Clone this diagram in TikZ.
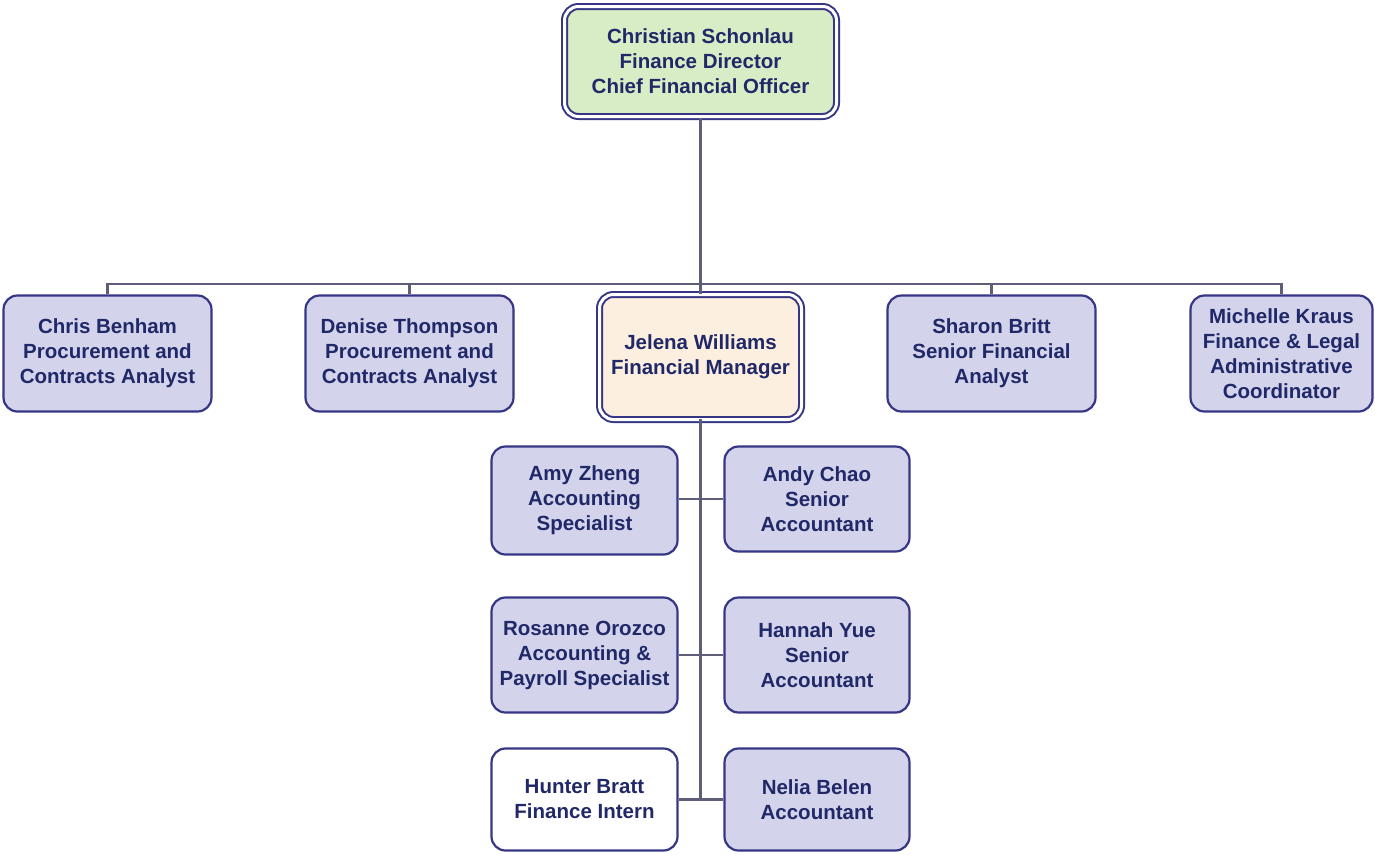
\documentclass[tikz,border=0pt]{standalone}
\usepackage{fontspec}
\setmainfont{Liberation Sans}
\definecolor{ink}{HTML}{202868}
\definecolor{boxline}{HTML}{363684}
\definecolor{lav}{HTML}{D3D3EB}
\definecolor{leaf}{HTML}{D8ECC6}
\definecolor{peach}{HTML}{FCEFDF}
\definecolor{wire}{HTML}{5E5E78}
\begin{document}
\begin{tikzpicture}[x=1pt,y=-1pt,
  box/.style={draw=boxline, line width=2.2pt, rounded corners=14pt, fill=lav,
    text=ink, font=\bfseries\fontsize{20.5}{25}\selectfont, align=center,
    inner sep=0pt},
  headbox/.style={box, line width=2pt, double=white, double distance=3pt},
  wirepath/.style={draw=wire, line width=2.2pt}]
\useasboundingbox (0,0) rectangle (1375,854);

% top of the department
\node[headbox, fill=leaf, minimum width=272pt, minimum height=110pt] (ceo) at (700.5,61.5)
  {Christian Schonlau\\Finance Director\\Chief Financial Officer};

% direct reports
\node[box, minimum width=208pt, minimum height=116pt] (chris) at (107.5,353.5)
  {Chris Benham\\Procurement and\\Contracts Analyst};
\node[box, minimum width=208pt, minimum height=116pt] (denise) at (409.5,353.5)
  {Denise Thompson\\Procurement and\\Contracts Analyst};
\node[headbox, fill=peach, minimum width=202pt, minimum height=125pt] (jelena) at (700.5,357)
  {Jelena Williams\\Financial Manager};
\node[box, minimum width=208pt, minimum height=116pt] (sharon) at (991.5,353.5)
  {Sharon Britt\\Senior Financial\\Analyst};
\node[box, minimum width=182pt, minimum height=116pt] (michelle) at (1281.5,353.5)
  {Michelle Kraus\\Finance \& Legal\\Administrative\\Coordinator};

% financial manager's team
\node[box, minimum width=186pt, minimum height=108pt] (amy) at (584.5,500.5)
  {Amy Zheng\\Accounting\\Specialist};
\node[box, minimum width=185pt, minimum height=105pt] (andy) at (817,499)
  {Andy Chao\\Senior\\Accountant};
\node[box, minimum width=186pt, minimum height=115pt] (rosanne) at (584.5,655)
  {Rosanne Orozco\\Accounting \&\\Payroll Specialist};
\node[box, minimum width=185pt, minimum height=115pt] (hannah) at (817,655)
  {Hannah Yue\\Senior\\Accountant};
\node[box, fill=white, minimum width=186pt, minimum height=102pt] (hunter) at (584.5,799.5)
  {Hunter Bratt\\Finance Intern};
\node[box, minimum width=185pt, minimum height=102pt] (nelia) at (817,799.5)
  {Nelia Belen\\Accountant};

% reporting lines
\coordinate (bus) at (700.5,284);
\draw[wirepath] (ceo.south) -- (jelena.north);
\draw[wirepath] (chris.north) -- (chris.north |- bus) -- (michelle.north |- bus) -- (michelle.north);
\draw[wirepath] (denise.north) -- (denise.north |- bus);
\draw[wirepath] (sharon.north) -- (sharon.north |- bus);
\draw[wirepath, line cap=rect] (jelena.south) -- (jelena.south |- nelia.west);
\draw[wirepath] (amy.east |- andy.west) -- (andy.west);
\draw[wirepath] (rosanne.east) -- (hannah.west);
\draw[wirepath] (hunter.east) -- (nelia.west);
\end{tikzpicture}
\end{document}
